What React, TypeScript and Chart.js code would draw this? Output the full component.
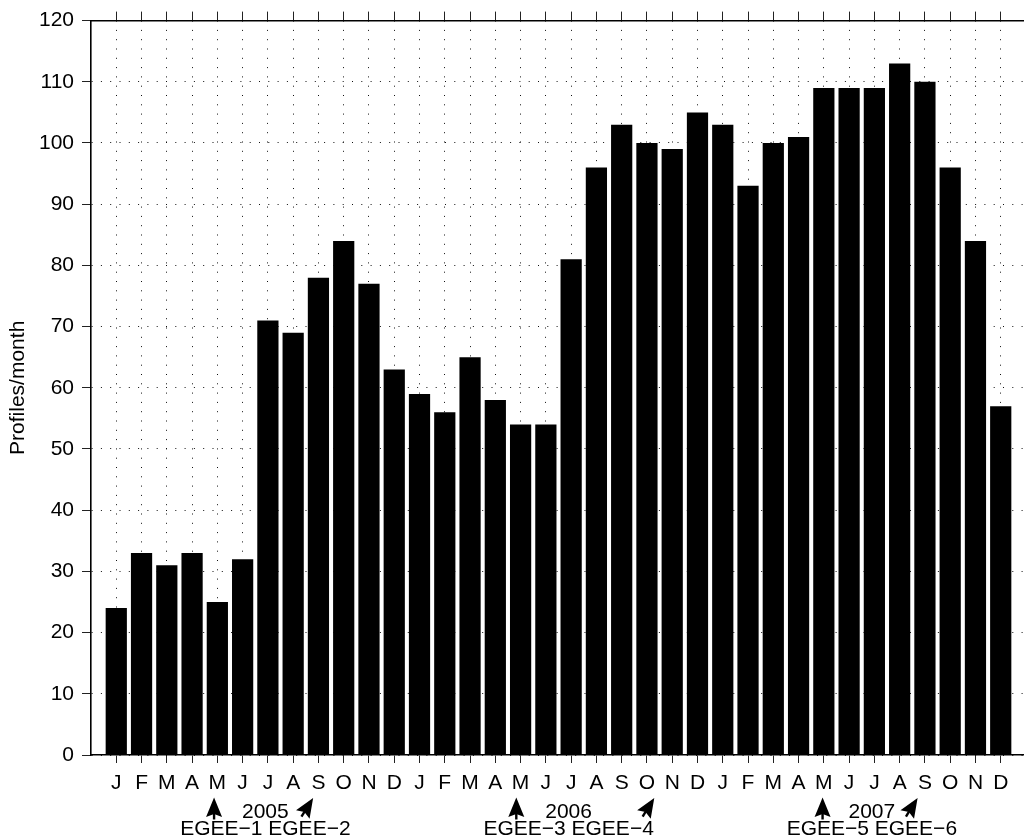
import { useEffect, useRef } from "react";
import { Chart, registerables } from "chart.js";

Chart.register(...registerables);

// ---- data ----
const months = ["J", "F", "M", "A", "M", "J", "J", "A", "S", "O", "N", "D"];
const years = ["2005", "2006", "2007"];
const monthLabels = [...months, ...months, ...months];
const profiles2005 = [24, 33, 31, 33, 25, 32, 71, 69, 78, 84, 77, 63];
const profiles2006 = [59, 56, 65, 58, 54, 54, 81, 96, 103, 100, 99, 105];
const profiles2007 = [103, 93, 100, 101, 109, 109, 109, 113, 110, 96, 84, 57];
const profiles = [...profiles2005, ...profiles2006, ...profiles2007];
const eventLabels = ["EGEE\u22121 EGEE\u22122", "EGEE\u22123 EGEE\u22124", "EGEE\u22125 EGEE\u22126"];
const yTicks = [0, 10, 20, 30, 40, 50, 60, 70, 80, 90, 100, 110, 120];

// ---- annotation layout (in x-scale units) ----
const yearLabelPos = [6.9, 18.9, 30.9];
const upArrowPos = [4.87, 16.83, 28.95];
const tiltArrowPos = [8.79, 22.29, 32.71];

const FONT = '"Liberation Sans", Arial, Helvetica, sans-serif';
const FS = 21;

function drawArrow(ctx: CanvasRenderingContext2D, x: number, y: number, deg: number) {
  ctx.save();
  ctx.translate(x, y);
  ctx.rotate((deg * Math.PI) / 180);
  ctx.beginPath();
  ctx.moveTo(0, 0);
  ctx.lineTo(-8, 19.5);
  ctx.lineTo(0, 16.5);
  ctx.lineTo(8, 19.5);
  ctx.closePath();
  ctx.fill();
  ctx.fillRect(-1.2, 10, 2.4, 12);
  ctx.restore();
}

const annotationPlugin = {
  id: "egeeAnnotations",
  afterDraw(chart: any) {
    const ctx: CanvasRenderingContext2D = chart.ctx;
    const xs = chart.scales.x;
    const bottom = chart.chartArea.bottom;
    ctx.save();
    ctx.fillStyle = "#000";
    ctx.font = `${FS}px ${FONT}`;
    ctx.textAlign = "center";
    ctx.textBaseline = "alphabetic";
    years.forEach((yr, i) => {
      const px = xs.getPixelForValue(yearLabelPos[i]);
      ctx.fillText(yr, px, bottom + 55 + 7.5);
      ctx.fillText(eventLabels[i], px, bottom + 72 + 7.5);
    });
    upArrowPos.forEach((v) => drawArrow(ctx, xs.getPixelForValue(v), bottom + 42.5, 0));
    tiltArrowPos.forEach((v) => drawArrow(ctx, xs.getPixelForValue(v), bottom + 43, 32));
    ctx.restore();
  },
};

export default function App() {
  const ref = useRef<HTMLCanvasElement | null>(null);

  useEffect(() => {
    if (!ref.current) return;
    const monthTicks = (scale: any) => {
      scale.ticks = monthLabels.map((_, i) => ({ value: i + 1 }));
    };
    const chart = new Chart(ref.current, {
      type: "bar",
      data: {
        datasets: [
          {
            data: profiles.map((v, i) => ({ x: i + 1, y: v })),
            backgroundColor: "#000",
            borderColor: "#555",
            borderWidth: 0,
            barPercentage: 0.84,
            categoryPercentage: 1,
            xAxisID: "x",
            yAxisID: "y",
          },
        ],
      },
      options: {
        animation: false,
        responsive: false,
        devicePixelRatio: 1,
        layout: { padding: 0 },
        plugins: { legend: { display: false }, tooltip: { enabled: false }, title: { display: false } },
        scales: {
          x: {
            type: "linear",
            position: "bottom",
            min: 0,
            max: 37,
            offset: false,
            afterBuildTicks: monthTicks,
            afterFit: (s: any) => {
              s.height = 82;
            },
            ticks: {
              autoSkip: false,
              maxRotation: 0,
              padding: 8,
              color: "#000",
              font: { family: FONT, size: FS },
              callback: (v: any) => monthLabels[Math.round(v) - 1] ?? "",
            },
            grid: {
              offset: false,
              color: "#111",
              lineWidth: 1,
              drawOnChartArea: true,
              drawTicks: true,
              tickLength: 8,
              tickColor: "#222",
              tickWidth: 1,
            },
            border: { display: true, color: "#000", width: 1.6, dash: [1, 8.3] },
          },
          x2: {
            type: "linear",
            axis: "x",
            position: "top",
            min: 0,
            max: 37,
            offset: false,
            afterBuildTicks: monthTicks,
            afterFit: (s: any) => {
              s.height = 17;
            },
            ticks: { display: false },
            grid: {
              offset: false,
              drawOnChartArea: false,
              drawTicks: true,
              tickLength: 9,
              tickColor: "#222",
              tickWidth: 1,
            },
            border: { display: true, color: "#000", width: 1.6 },
          },
          y: {
            type: "linear",
            position: "left",
            min: 0,
            max: 120,
            afterBuildTicks: (scale: any) => {
              scale.ticks = yTicks.map((v) => ({ value: v }));
            },
            afterFit: (s: any) => {
              s.width = 91;
            },
            ticks: {
              padding: 8,
              color: "#000",
              font: { family: FONT, size: FS },
            },
            grid: {
              color: "#111",
              lineWidth: 1,
              drawTicks: true,
              tickLength: 9,
              tickColor: "#222",
              tickWidth: 1,
            },
            border: { display: true, color: "#000", width: 1.6, dash: [1, 8.3] },
            title: {
              display: true,
              text: "Profiles/month",
              color: "#000",
              font: { family: FONT, size: FS },
              padding: { top: 6, bottom: 0 },
            },
          },
        },
      },
      plugins: [annotationPlugin],
    } as any);
    return () => chart.destroy();
  }, []);

  return (
    <div
      style={{
        position: "fixed",
        left: 0,
        top: 0,
        width: 1024,
        height: 837,
        overflow: "hidden",
        background: "#fff",
      }}
    >
      <canvas ref={ref} width={1026} height={837} style={{ display: "block", width: 1026, height: 837 }} />
    </div>
  );
}
